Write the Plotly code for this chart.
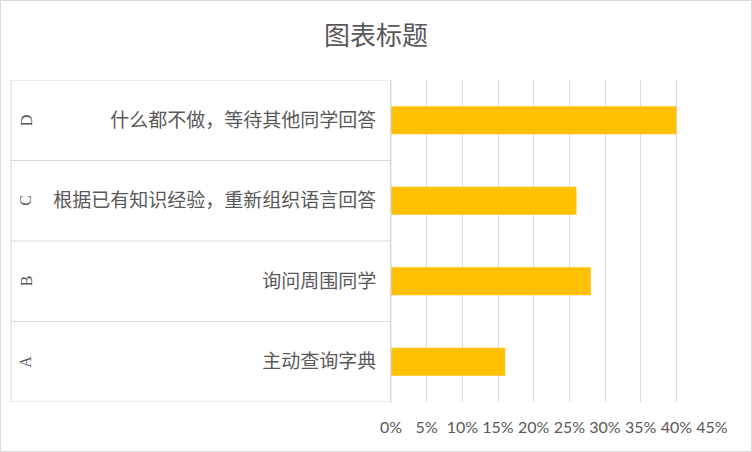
import plotly.graph_objects as go

# 问卷选项与占比
letters = ["A", "B", "C", "D"]
options = ["主动查询字典", "询问周围同学", "根据已有知识经验，重新组织语言回答", "什么都不做，等待其他同学回答"]
shares = [0.16, 0.28, 0.26, 0.40]
x_ticks = [0, 0.05, 0.10, 0.15, 0.20, 0.25, 0.30, 0.35, 0.40, 0.45]

W, H = 752, 452
ML, MR, MT, MB = 391, 40, 80, 50
pw = W - ML - MR
ph = H - MT - MB
grey = "#d9d9d9"
txt = "#595959"
cjk = "Noto Sans CJK SC"


def px(x):
    return (x - ML) / pw


def py(y):
    return 1 - (y - MT) / ph


fig = go.Figure(go.Bar(
    x=shares,
    y=options,
    orientation="h",
    width=0.35,
    marker=dict(color="#ffc000", line=dict(width=0)),
))

shapes = []
# outer frame of the chart
shapes.append(dict(type="rect", xref="paper", yref="paper",
                   x0=px(0.5), x1=px(W - 0.5), y0=py(H - 0.5), y1=py(0.5),
                   line=dict(color=grey, width=1)))
# category box on the left
shapes.append(dict(type="rect", xref="paper", yref="y",
                   x0=px(11), x1=0, y0=-0.5, y1=len(options) - 0.5,
                   line=dict(color=grey, width=1)))
for i in range(1, len(options)):
    shapes.append(dict(type="line", xref="paper", yref="y",
                       x0=px(11), x1=0, y0=i - 0.5, y1=i - 0.5,
                       line=dict(color=grey, width=1)))

annotations = []
for L, opt in zip(letters, options):
    annotations.append(dict(text=L, xref="paper", yref="y", x=px(26), y=opt,
                            showarrow=False, textangle=-90, xanchor="center",
                            font=dict(family="Liberation Serif", size=16, color=txt)))

fig.update_layout(
    width=W, height=H,
    margin=dict(l=ML, r=MR, t=MT, b=MB, pad=0),
    paper_bgcolor="white",
    plot_bgcolor="white",
    title=dict(text="图表标题", x=0.5, xref="container", xanchor="center",
               y=1 - 36 / H, yref="container", yanchor="middle",
               font=dict(family=cjk, size=26, color=txt)),
    xaxis=dict(range=[0, 0.45], tickvals=x_ticks, tickformat=".0%",
               showgrid=True, gridcolor=grey, gridwidth=1,
               zeroline=False, showline=False, ticks="",
               ticklabelstandoff=14,
               tickfont=dict(family="Lato", size=16, color=txt)),
    yaxis=dict(range=[-0.5, len(options) - 0.5], showgrid=False,
               zeroline=False, showline=True, linecolor=grey, linewidth=1,
               ticks="", ticklabelstandoff=10,
               tickfont=dict(family=cjk, size=19, color=txt)),
    shapes=shapes,
    annotations=annotations,
    showlegend=False,
    bargap=0.65,
)

fig.write_html("out.html", config={"displayModeBar": False},
               post_script="document.body.style.margin='0';")
